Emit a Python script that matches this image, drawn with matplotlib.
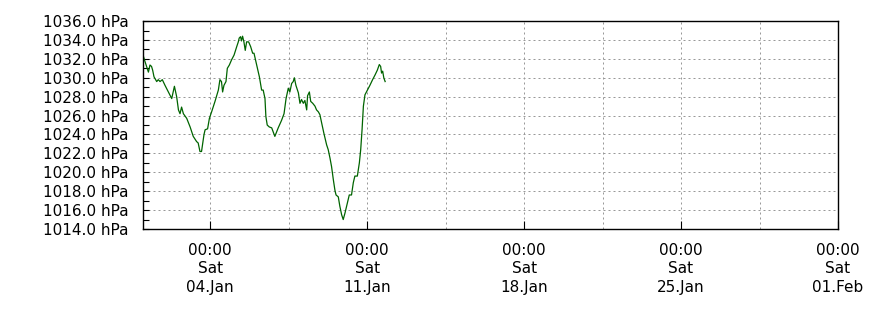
import pandas as pd
import matplotlib
matplotlib.use("Agg")
import matplotlib.pyplot as plt
import matplotlib.dates as mdates
from matplotlib.ticker import MultipleLocator, FuncFormatter, FixedLocator

# --- data: days since 2020-01-01 00:00, pressure in hPa ---
day_offset = [
    0.00, 0.09, 0.24, 0.31, 0.38, 0.43, 0.49, 0.61, 0.68, 0.76, 0.86, 0.98,
    1.13, 1.28, 1.40, 1.50, 1.58, 1.65, 1.72, 1.80, 1.95, 2.10, 2.24, 2.39,
    2.46, 2.54, 2.61, 2.72, 2.77, 2.88, 2.96, 3.06, 3.21, 3.36, 3.43, 3.50,
    3.55, 3.61, 3.70, 3.76, 3.85, 3.95, 4.06, 4.18, 4.25, 4.29, 4.35, 4.39,
    4.44, 4.50, 4.56, 4.62, 4.71, 4.80, 4.89, 4.95, 5.07, 5.19, 5.29, 5.36,
    5.44, 5.48, 5.54, 5.63, 5.74, 5.88, 6.03, 6.18, 6.29, 6.38, 6.48, 6.55,
    6.63, 6.70, 6.75, 6.82, 6.93, 7.00, 7.07, 7.15, 7.22, 7.30, 7.34, 7.42,
    7.48, 7.57, 7.67, 7.74, 7.82, 7.89, 7.97, 8.07, 8.19, 8.26, 8.34, 8.41,
    8.49, 8.56, 8.61, 8.71, 8.78, 8.86, 8.93, 9.01, 9.11, 9.20, 9.30, 9.38,
    9.45, 9.56, 9.65, 9.71, 9.77, 9.83, 9.90, 10.01, 10.12, 10.24, 10.35,
    10.45, 10.54, 10.60, 10.64, 10.69, 10.74, 10.80,
]
pressure = [
    1032.4, 1031.7, 1030.6, 1031.35, 1031.2, 1030.8, 1030.1, 1029.6, 1029.8,
    1029.6, 1029.8, 1029.2, 1028.5, 1027.8, 1029.1, 1028.0, 1026.6, 1026.2,
    1026.9, 1026.2, 1025.7, 1024.8, 1023.8, 1023.25, 1023.1, 1022.2, 1022.2,
    1024.0, 1024.5, 1024.6, 1025.7, 1026.4, 1027.5, 1028.7, 1029.8, 1029.6,
    1028.5, 1029.2, 1029.6, 1031.0, 1031.35, 1031.9, 1032.4, 1033.3, 1033.8,
    1034.2, 1034.35, 1033.9, 1034.4, 1033.8, 1032.9, 1033.8, 1033.8, 1033.3,
    1032.6, 1032.6, 1031.35, 1030.1, 1028.7, 1028.7, 1027.8, 1025.9, 1025.0,
    1024.8, 1024.7, 1023.8, 1024.7, 1025.5, 1026.2, 1027.8, 1028.9, 1028.5,
    1029.4, 1029.6, 1030.0, 1029.2, 1028.4, 1027.3, 1027.7, 1027.3, 1027.6,
    1026.6, 1028.1, 1028.5, 1027.5, 1027.3, 1027.0, 1026.6, 1026.4, 1026.1,
    1025.2, 1024.1, 1022.9, 1022.4, 1021.5, 1020.6, 1019.2, 1018.1, 1017.6,
    1017.4, 1016.4, 1015.5, 1015.0, 1015.7, 1016.7, 1017.6, 1017.6, 1018.9,
    1019.6, 1019.6, 1021.0, 1022.4, 1024.5, 1027.0, 1028.2, 1028.7, 1029.2,
    1029.8, 1030.3, 1030.8, 1031.4, 1031.2, 1030.5, 1030.7, 1030.0, 1029.6,
]

start = pd.Timestamp("2020-01-01")
end = pd.Timestamp("2020-02-01")
times = start + pd.to_timedelta(day_offset, unit="D")

plt.rcParams['font.family'] = ['DejaVu Sans']

fig = plt.figure(figsize=(8.7, 3.1), dpi=100)
ax = fig.add_axes([0.1644, 0.2613, 0.7988, 0.6707])

ax.plot(times, pressure, color='#006400', linewidth=0.9)

ax.set_xlim(start, end)
ax.set_ylim(1014, 1036)

# x axis: weekly major ticks on Saturdays, minor gridlines at mid-week
ax.xaxis.set_major_locator(mdates.WeekdayLocator(byweekday=mdates.SA))
minor_pos = [mdates.date2num(pd.Timestamp("2020-01-04") + pd.Timedelta(days=3.5 + 7 * i))
             for i in range(4)]
ax.xaxis.set_minor_locator(FixedLocator(minor_pos))
ax.xaxis.set_major_formatter(FuncFormatter(
    lambda v, pos: mdates.num2date(v).strftime("%H:%M\n%a\n%d.%b")))

ax.yaxis.set_major_locator(MultipleLocator(2))
ax.yaxis.set_minor_locator(MultipleLocator(1))
ax.yaxis.set_major_formatter(FuncFormatter(lambda v, pos: f"{v:.1f} hPa"))

grid_style = dict(color='#999999', linestyle=(0, (2, 3)), linewidth=0.72)
ax.grid(True, which='major', **grid_style)
ax.grid(True, which='minor', axis='x', **grid_style)

ax.tick_params(axis='x', which='major', direction='in', length=6, width=0.8,
               pad=10, labelsize=11)
ax.tick_params(axis='x', which='minor', length=0)
ax.tick_params(axis='y', which='both', direction='in', length=4, width=0.8,
               pad=10.5, labelsize=11)
for lbl in ax.get_xticklabels():
    lbl.set_linespacing(1.3)

for s in ax.spines.values():
    s.set_linewidth(1.0)
    s.set_color('black')

fig.savefig("out.png", dpi=100)
